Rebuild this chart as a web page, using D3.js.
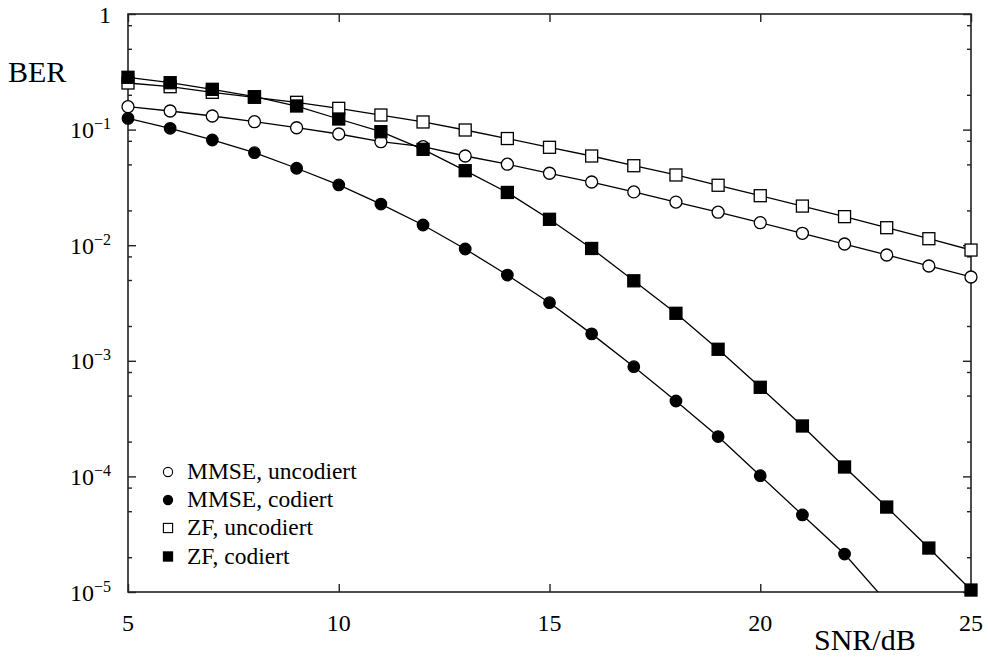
<!DOCTYPE html>
<html>
<head>
<meta charset="utf-8">
<script src="https://cdn.jsdelivr.net/npm/d3@7"></script>
<style>
  html, body { margin: 0; padding: 0; background: #fff; }
  svg { display: block; font-family: "Liberation Serif", "Times New Roman", serif; }
</style>
</head>
<body>
<svg id="chart" width="988" height="657"></svg>
<script>
// ---- data ----
const snr = [5, 6, 7, 8, 9, 10, 11, 12, 13, 14, 15, 16, 17, 18, 19, 20, 21, 22, 23, 24, 25];

const mmseUncoded = [0.1578, 0.1449, 0.1311, 0.117, 0.1038, 0.0916, 0.0786, 0.0711, 0.0591, 0.0502,
  0.0419, 0.0352, 0.0289, 0.0236, 0.0193, 0.01566, 0.01268, 0.01024, 0.00823, 0.00661, 0.00531];
const mmseCoded = [0.125, 0.1026, 0.0813, 0.0631, 0.0463, 0.0332, 0.0227, 0.01496, 0.00927, 0.00552,
  0.00318, 0.00171, 0.000889, 0.000449, 0.000221, 0.0001014, 4.64e-5, 2.13e-5, 8.2e-6];
const zfUncoded = [0.253, 0.235, 0.2102, 0.1903, 0.1722, 0.1528, 0.1337, 0.1164, 0.0992, 0.0837,
  0.0703, 0.0591, 0.0487, 0.0405, 0.033, 0.0268, 0.0218, 0.01766, 0.01417, 0.01138, 0.00908];
const zfCoded = [0.2835, 0.2545, 0.2231, 0.1926, 0.160, 0.1235, 0.0959, 0.0675, 0.0441, 0.0286,
  0.01675, 0.00937, 0.00492, 0.002576, 0.001258, 0.00059, 0.000273, 0.0001206, 5.43e-5, 2.4e-5, 1.04e-5];

const seriesNames = ["MMSE, uncodiert", "MMSE, codiert", "ZF, uncodiert", "ZF, codiert"];

const xTicks = [5, 10, 15, 20, 25];
const yMajorTicks = [1, 1e-1, 1e-2, 1e-3, 1e-4, 1e-5];
const yMajorExponents = ["", "−1", "−2", "−3", "−4", "−5"];
const yMajorBases = ["1", "10", "10", "10", "10", "10"];
const yMinorTicks = [0.8, 0.5, 0.2, 0.08, 0.05, 0.02, 0.008, 0.005, 0.002,
  0.0008, 0.0005, 0.0002, 0.00008, 0.00005, 0.00002];

const xTitle = "SNR/dB";
const yTitle = "BER";

// ---- layout ----
const svg = d3.select("#chart");
const L = 128, R = 971, T = 14, B = 592;
const x = d3.scaleLinear().domain([5, 25]).range([L, R]);
const y = d3.scaleLog().domain([1, 1e-5]).range([T, B]);

const series = [
  { name: seriesNames[0], values: mmseUncoded, shape: "circle", filled: false },
  { name: seriesNames[1], values: mmseCoded, shape: "circle", filled: true },
  { name: seriesNames[2], values: zfUncoded, shape: "square", filled: false },
  { name: seriesNames[3], values: zfCoded, shape: "square", filled: true }
];

svg.append("defs").append("clipPath").attr("id", "plotclip")
  .append("rect").attr("x", L).attr("y", T).attr("width", R - L).attr("height", B - T);

const axisColor = "#222";

function styleAxis(g) {
  g.select(".domain").remove();
  g.selectAll(".tick line").attr("stroke", axisColor).attr("stroke-width", 1.4);
}
// left
svg.append("g").attr("transform", `translate(${L},0)`)
  .call(d3.axisRight(y).tickValues(yMajorTicks).tickSize(8).tickFormat("")).call(styleAxis);
svg.append("g").attr("transform", `translate(${L},0)`)
  .call(d3.axisRight(y).tickValues(yMinorTicks).tickSize(4).tickFormat("")).call(styleAxis);
// right
svg.append("g").attr("transform", `translate(${R},0)`)
  .call(d3.axisLeft(y).tickValues(yMajorTicks).tickSize(8).tickFormat("")).call(styleAxis);
svg.append("g").attr("transform", `translate(${R},0)`)
  .call(d3.axisLeft(y).tickValues(yMinorTicks).tickSize(4).tickFormat("")).call(styleAxis);
// bottom
svg.append("g").attr("transform", `translate(0,${B})`)
  .call(d3.axisTop(x).tickValues(xTicks).tickSize(8).tickFormat("")).call(styleAxis);
// top
svg.append("g").attr("transform", `translate(0,${T})`)
  .call(d3.axisBottom(x).tickValues(xTicks).tickSize(8).tickFormat("")).call(styleAxis);

// frame
svg.append("rect").attr("x", L).attr("y", T).attr("width", R - L).attr("height", B - T)
  .attr("fill", "none").attr("stroke", axisColor).attr("stroke-width", 1.6);

// y labels
const yl = svg.append("g").selectAll("text").data(yMajorTicks).join("text")
  .attr("x", 111).attr("y", d => y(d) + 8.5)
  .attr("text-anchor", "end").attr("font-size", 24).attr("fill", "#000");
yl.append("tspan").text((d, i) => yMajorBases[i]);
yl.filter((d, i) => yMajorExponents[i] !== "").append("tspan")
  .attr("font-size", 16).attr("dy", -9).text((d, i) => yMajorExponents[i + 1]);

// x labels
svg.append("g").selectAll("text").data(xTicks).join("text")
  .attr("x", d => x(d)).attr("y", 631).attr("text-anchor", "middle")
  .attr("font-size", 24).attr("fill", "#000").text(d => d);

// titles
svg.append("text").attr("x", 8).attr("y", 82).attr("font-size", 30).text(yTitle);
svg.append("text").attr("x", 814).attr("y", 650).attr("font-size", 30).text(xTitle);

// data lines (clipped to plot area)
const plot = svg.append("g").attr("clip-path", "url(#plotclip)");
const line = d3.line().x((d, i) => x(snr[i])).y(d => y(d));

series.forEach(s => {
  plot.append("path").datum(s.values).attr("d", line)
    .attr("fill", "none").attr("stroke", "#000").attr("stroke-width", 1.3);
});

// markers (only those inside the value range, not clipped at the frame)
const yMin = y.domain()[1];
function drawMarkers(g, s, size) {
  const pts = s.values.map((v, i) => ({ v, px: x(snr[i]), py: y(v) })).filter(d => d.v >= yMin * 0.999);
  if (s.shape === "circle") {
    g.selectAll(null).data(pts).join("circle")
      .attr("cx", d => d.px).attr("cy", d => d.py).attr("r", size / 2)
      .attr("fill", s.filled ? "#000" : "#fff").attr("stroke", "#000").attr("stroke-width", 1.3);
  } else {
    g.selectAll(null).data(pts).join("rect")
      .attr("x", d => d.px - size / 2).attr("y", d => d.py - size / 2)
      .attr("width", size).attr("height", size)
      .attr("fill", s.filled ? "#000" : "#fff").attr("stroke", "#000").attr("stroke-width", 1.3);
  }
}
const markerSizes = [12, 11.5, 12, 12];
const marks = svg.append("g");
series.forEach((s, i) => drawMarkers(marks.append("g"), s, markerSizes[i]));

// legend
const legendRows = [472, 500, 528, 556.5];
const lg = svg.append("g");
series.forEach((s, i) => {
  const g = lg.append("g");
  const cy = legendRows[i];
  if (s.shape === "circle") {
    g.append("circle").attr("cx", 168).attr("cy", cy).attr("r", 4.6)
      .attr("fill", s.filled ? "#000" : "#fff").attr("stroke", "#000").attr("stroke-width", 1.1);
  } else {
    g.append("rect").attr("x", 168 - 4.6).attr("y", cy - 4.6).attr("width", 9.2).attr("height", 9.2)
      .attr("fill", s.filled ? "#000" : "#fff").attr("stroke", "#000").attr("stroke-width", 1.1);
  }
  g.append("text").attr("x", 187).attr("y", cy + 7).attr("font-size", 23.5).text(s.name);
});
</script>
</body>
</html>
